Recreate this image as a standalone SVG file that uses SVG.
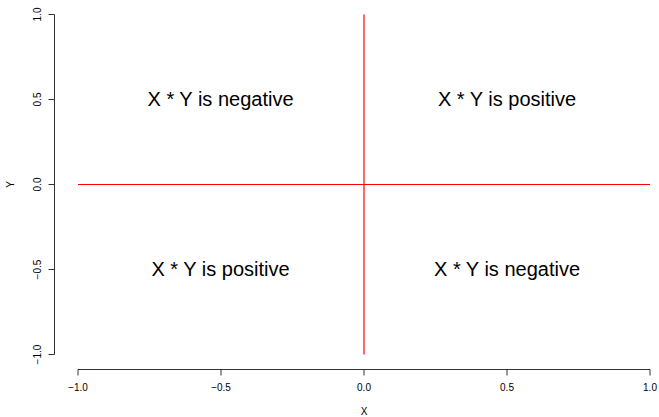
<svg xmlns="http://www.w3.org/2000/svg" width="659" height="417" viewBox="0 0 659 417">
<style>
.ax{stroke:#333;stroke-width:1;fill:none}
.rl{stroke:#ff0000;stroke-width:1.2;fill:none}
.tk{font-family:"Liberation Sans",Arial,sans-serif;font-size:10px;fill:#000;text-anchor:middle}
.q{font-family:"Liberation Sans",Arial,sans-serif;font-size:20px;fill:#000;text-anchor:middle}
</style>
<rect width="659" height="417" fill="#fff"/>
<g id="axes">
<path class="ax" d="M78,369.5H650M78,369.5v6M221,369.5v6M364,369.5v6M507,369.5v6M650,369.5v6"/>
<path class="ax" d="M54.5,14.5V354.5M54.5,14.5h-6M54.5,99.5h-6M54.5,184.5h-6M54.5,269.5h-6M54.5,354.5h-6"/>
<text class="tk" x="78" y="391">−1.0</text>
<text class="tk" x="221" y="391">−0.5</text>
<text class="tk" x="364" y="391">0.0</text>
<text class="tk" x="507" y="391">0.5</text>
<text class="tk" x="650" y="391">1.0</text>
<text class="tk" x="364" y="415">X</text>
<text class="tk" transform="translate(41,14.5) rotate(-90)">1.0</text>
<text class="tk" transform="translate(41,99.5) rotate(-90)">0.5</text>
<text class="tk" transform="translate(41,184.5) rotate(-90)">0.0</text>
<text class="tk" transform="translate(41,269.5) rotate(-90)">−0.5</text>
<text class="tk" transform="translate(41,354.5) rotate(-90)">−1.0</text>
<text class="tk" transform="translate(14,184.5) rotate(-90)">Y</text>
</g>
<g id="connectors">
<path class="rl" d="M78,184.5H650"/>
<path class="rl" d="M364,14.5V354.5"/>
</g>
<g id="q1"><text class="q" x="220.5" y="105.5">X * Y is negative</text></g>
<g id="q2"><text class="q" x="507" y="105.5">X * Y is positive</text></g>
<g id="q3"><text class="q" x="220.5" y="275.5">X * Y is positive</text></g>
<g id="q4"><text class="q" x="507" y="275.5">X * Y is negative</text></g>
</svg>
